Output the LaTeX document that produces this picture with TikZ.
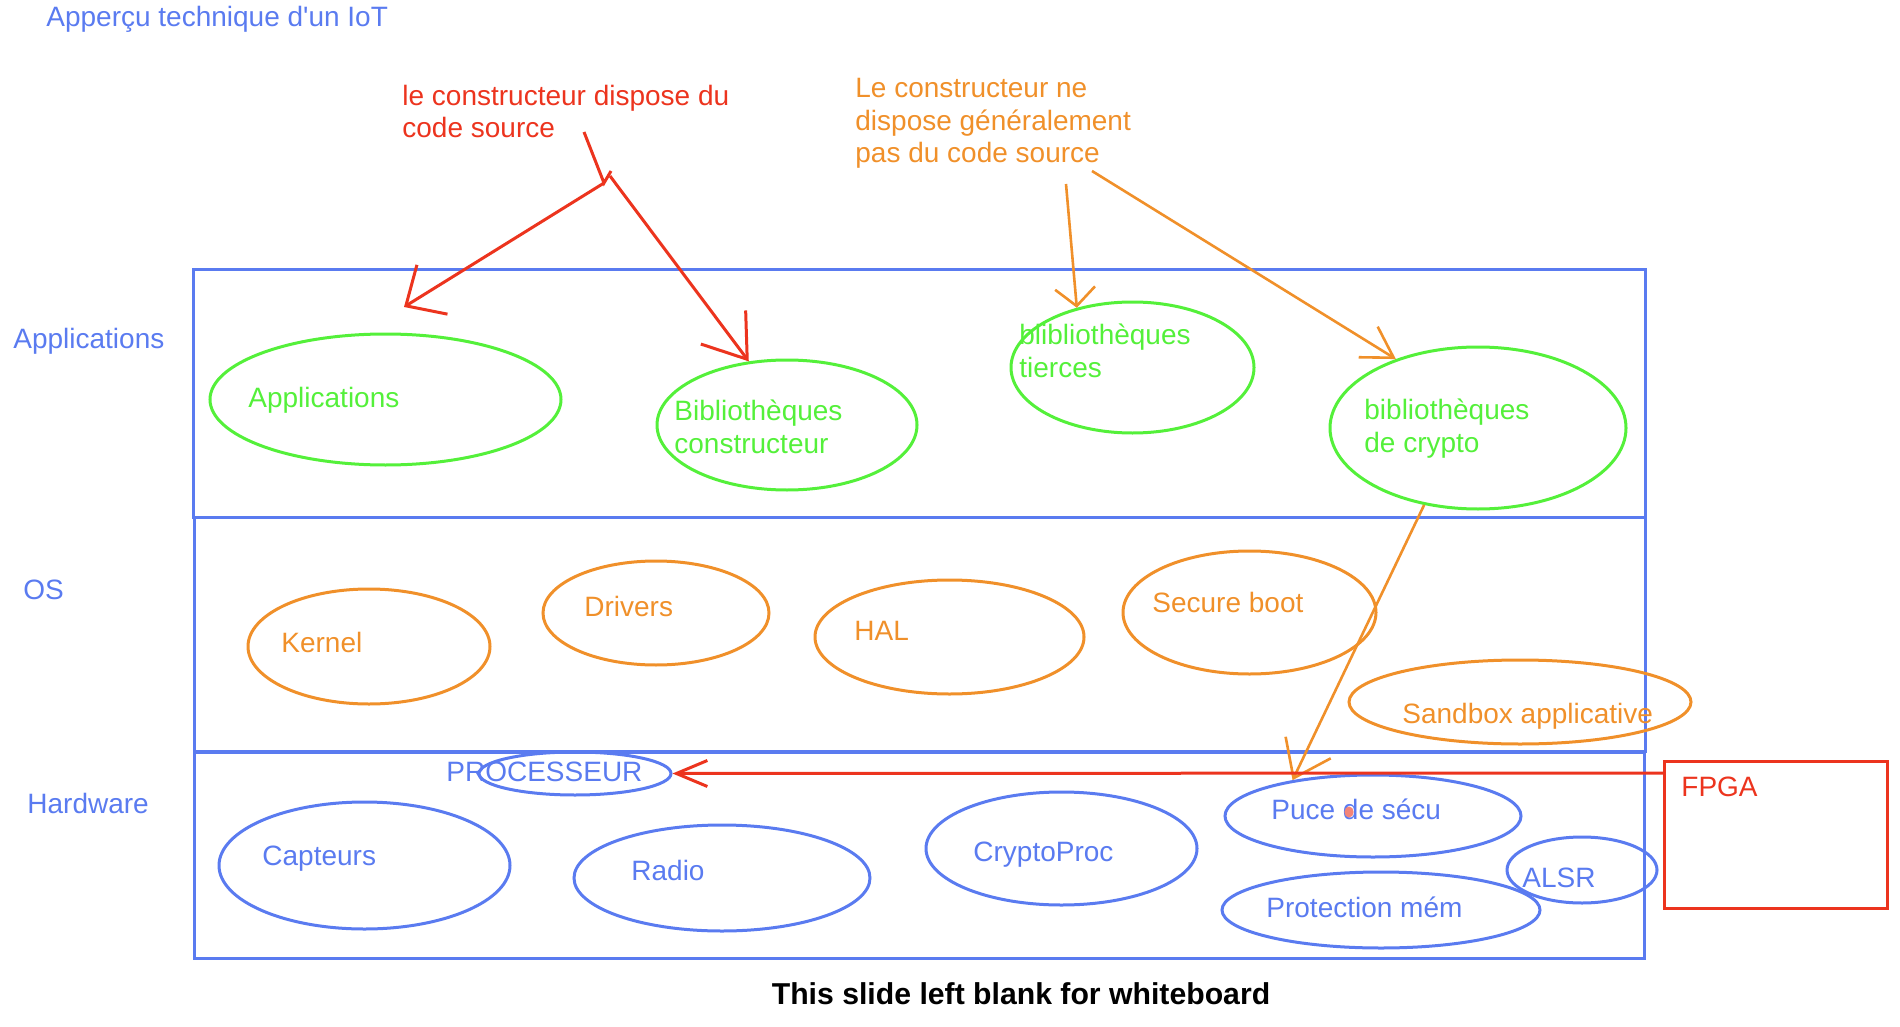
\documentclass[tikz,border=0pt]{standalone}
\usepackage{fontspec}
\setmainfont{Liberation Sans}
\newfontfamily\wbfont{Liberation Sans}
\usetikzlibrary{arrows.meta,shapes.geometric}

\definecolor{wbblue}{RGB}{90,123,240}
\definecolor{wbgreen}{RGB}{84,240,58}
\definecolor{wborange}{RGB}{240,144,42}
\definecolor{wbred}{RGB}{236,52,30}

\begin{document}
\begin{tikzpicture}[x=0.5pt, y=-0.5pt,
        txt/.style={inner sep=0pt, anchor=base west, align=left,
            font=\wbfont\fontsize{14}{16.3}\selectfont},
        layer/.style={draw=wbblue, line width=1.5pt},
        blob/.style={ellipse, draw, line width=1.5pt, inner sep=0pt},
        appblob/.style={blob, draw=wbgreen},
        osblob/.style={blob, draw=wborange},
        hwblob/.style={blob, draw=wbblue},
        redline/.style={draw=wbred, line width=1.5pt},
        orangeline/.style={draw=wborange, line width=1.3pt},
        barb/.style 2 args={-{Straight Barb[length=#1, width=#2]}}]
        \useasboundingbox (0,0) rectangle (1900,1027);

        \node[txt, text=wbblue] (title) at (46,27) {Apperçu technique d'un IoT};

        \draw[layer] (193,270) rectangle (1645,517);
        \draw[layer] (194,517) rectangle (1645,751);
        \draw[layer] (194,752) rectangle (1644,958);

        \node[txt, text=wbblue] (lapps) at (13,348) {Applications};
        \node[txt, text=wbblue] (los) at (23,599) {OS};
        \node[txt, text=wbblue] (lhw) at (27,813) {Hardware};

        \node[txt, text=wbred] (srcyes) at (402,138)
        {le constructeur dispose du\\code source};
        \node[txt, text=wborange] (srcno) at (855,163)
        {Le constructeur ne\\dispose généralement\\pas du code source};

        \node[appblob, minimum width=175.5pt, minimum height=65.5pt] (appl) at (385.5,399.5) {};
        \node[txt, text=wbgreen] (tappl) at (248,407) {Applications};
        \node[appblob, minimum width=130pt, minimum height=65pt] (bibc) at (787,425) {};
        \node[txt, text=wbgreen] (tbibc) at (674,453) {Bibliothèques\\constructeur};
        \node[appblob, minimum width=121.5pt, minimum height=65.5pt] (tier) at (1132.5,367.5) {};
        \node[txt, text=wbgreen] (ttier) at (1019,377) {blibliothèques\\tierces};
        \node[appblob, minimum width=148pt, minimum height=81pt] (crypto) at (1478,428) {};
        \node[txt, text=wbgreen] (tcrypto) at (1364,452) {bibliothèques\\de crypto};

        \node[osblob, minimum width=121pt, minimum height=57.5pt] (kern) at (369,646.5) {};
        \node[txt, text=wborange] (tkern) at (281,652) {Kernel};
        \node[osblob, minimum width=113pt, minimum height=52pt] (drv) at (656,613) {};
        \node[txt, text=wborange] (tdrv) at (584,616) {Drivers};
        \node[osblob, minimum width=134.5pt, minimum height=57pt] (hal) at (949.5,637) {};
        \node[txt, text=wborange] (thal) at (854,640) {HAL};
        \node[osblob, minimum width=126.5pt, minimum height=61.5pt] (boot) at (1249.5,612.5) {};
        \node[txt, text=wborange] (tboot) at (1152,612) {Secure boot};
        \node[osblob, minimum width=171pt, minimum height=42pt] (sand) at (1520,702) {};
        \node[txt, text=wborange] (tsand) at (1402,723) {Sandbox applicative};

        \node[hwblob, minimum width=96pt, minimum height=21.5pt] (proc) at (575,773.5) {};
        \node[txt, text=wbblue] (tproc) at (446,781) {PROCESSEUR};
        \node[hwblob, minimum width=145.5pt, minimum height=63.5pt] (capt) at (364.5,865.5) {};
        \node[txt, text=wbblue] (tcapt) at (262,865) {Capteurs};
        \node[hwblob, minimum width=148pt, minimum height=53pt] (radio) at (722,878) {};
        \node[txt, text=wbblue] (tradio) at (631,880) {Radio};
        \node[hwblob, minimum width=135.5pt, minimum height=56.5pt] (cproc) at (1061.5,848.5) {};
        \node[txt, text=wbblue] (tcproc) at (973,861) {CryptoProc};
        \node[hwblob, minimum width=148pt, minimum height=41pt] (puce) at (1373,816) {};
        \node[txt, text=wbblue] (tpuce) at (1271,819) {Puce de sécu};
        \fill[wbred!60!white] (1349,812) ellipse (2.3pt and 2.8pt);
        \node[hwblob, minimum width=75pt, minimum height=33pt] (alsr) at (1582,870) {};
        \node[txt, text=wbblue] (talsr) at (1522,887) {ALSR};
        \node[hwblob, minimum width=159pt, minimum height=38pt] (prot) at (1381,910) {};
        \node[txt, text=wbblue] (tprot) at (1266,917) {Protection mém};

        \node[draw=wbred, line width=1.5pt, inner sep=0pt, anchor=north west,
            minimum width=111.5pt, minimum height=73.5pt] (fpga) at (1663,760) {};
        \node[txt, text=wbred] (tfpga) at (1681,796) {FPGA};

        \coordinate (rsrc) at (584,132);
        \coordinate (split) at (604,183);
        \coordinate (tick) at (611,171);
        \coordinate (split2) at (610,176);
        \coordinate (tipappl) at (404,307);
        \draw[redline] (rsrc) -- (split) -- (tick);
        \draw[redline, barb={15.5pt}{29pt}] (split) -- (tipappl);
        \draw[redline, barb={20pt}{28pt}] (split2) -- (bibc.121);

        \coordinate (osrc1) at (1066,184);
        \coordinate (osrc2) at (1092,171);
        \draw[orangeline, barb={9pt}{20pt}] (osrc1) -- (tier.133);
        \draw[orangeline, barb={15pt}{18pt}] (osrc2) -- (crypto.140);
        \draw[orangeline, barb={17pt}{25pt}] (crypto.235) -- (puce.156);

        \draw[redline, barb={15.5pt}{13pt}] ([yshift=-6.5pt]fpga.north west) -- (proc.east);

        \node[inner sep=0pt, anchor=base, font=\wbfont\bfseries\fontsize{15.1}{17}\selectfont]
        (blank) at (1021,1004) {This slide left blank for whiteboard};
    \end{tikzpicture}
\end{document}
